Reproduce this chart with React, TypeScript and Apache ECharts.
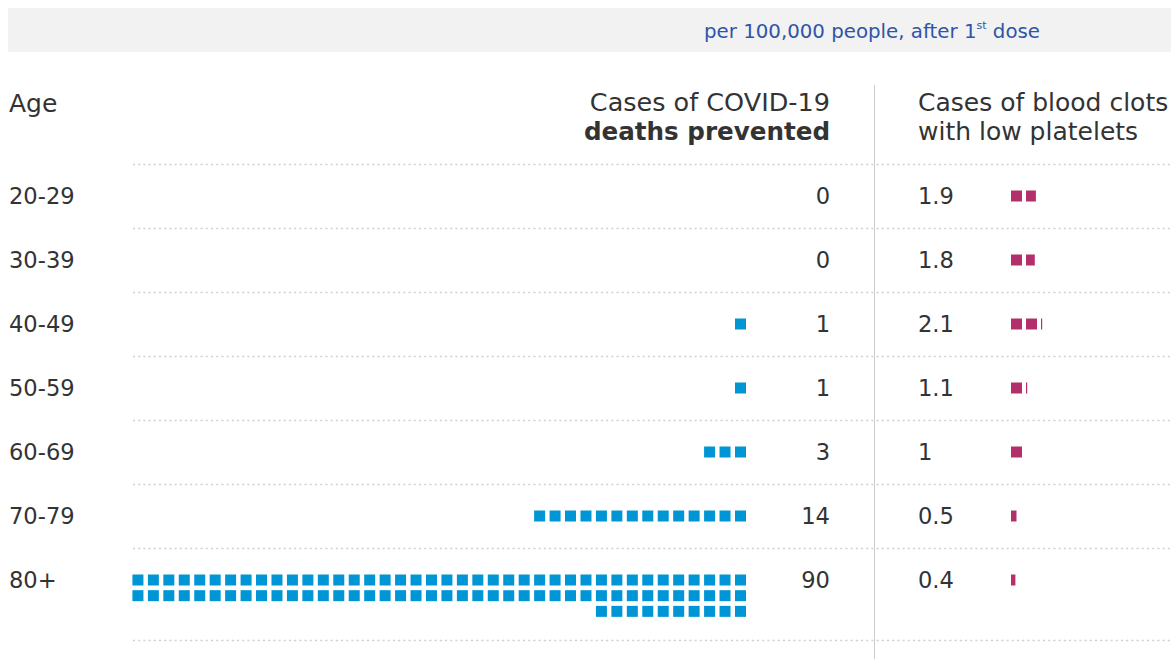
import React, { useEffect, useRef } from "react";
import * as echarts from "echarts";

// ---- data ----
const ages = ["20-29", "30-39", "40-49", "50-59", "60-69", "70-79", "80+"];
const deathsPrevented = [0, 0, 1, 1, 3, 14, 90];
const bloodClots = [1.9, 1.8, 2.1, 1.1, 1, 0.5, 0.4];
const separatorRows = [-0.5, 0.5, 1.5, 2.5, 3.5, 4.5, 5.5, 6.94];
const noteMain = "per 100,000 people, after 1";
const noteSup = "st";
const noteEnd = " dose";
const leftTitle1 = "Cases of COVID-19";
const leftTitle2 = "deaths prevented";
const rightTitle1 = "Cases of blood clots";
const rightTitle2 = "with low platelets";
const ageTitle = "Age";

// ---- layout / style ----
const FONT = '"DejaVu Sans", Verdana, sans-serif';
const TXT = "#333333";
const BLUE = "#0096d6";
const PINK = "#b3306b";
const PER_ROW = 40;
const SUB = 0.245;
const SQ = 11;
const GRID_TOP = 164;
const GRID_H = 476.16;

export default function App() {
  const ref = useRef<HTMLDivElement>(null);
  useEffect(() => {
    if (!ref.current) return;
    const chart = echarts.init(ref.current, undefined, { renderer: "svg" });
    const yAx = (i: number) => ({ type: "value", gridIndex: i, min: -0.5, max: 6.94, inverse: true, show: false });
    const txt = (text: string, x: number, y: number, size: number, align: string, weight = "normal", fill = TXT) => ({
      type: "text",
      x,
      y,
      silent: true,
      style: {
        text,
        fill,
        fontSize: size,
        fontFamily: FONT,
        fontWeight: weight,
        align,
        textAlign: align,
        verticalAlign: "middle",
        textVerticalAlign: "middle",
      },
    });
    const option: any = {
      animation: false,
      backgroundColor: "#ffffff",
      grid: [
        { left: 133, right: 0, top: GRID_TOP, height: GRID_H },
        { left: 130.2, width: 618, top: GRID_TOP, height: GRID_H },
        { left: 1011, width: 150, top: GRID_TOP, height: GRID_H },
      ],
      xAxis: [
        { type: "value", gridIndex: 0, min: 0, max: 1, show: false },
        { type: "value", gridIndex: 1, min: -0.5, max: 39.5, inverse: true, show: false },
        { type: "value", gridIndex: 2, min: 0, max: 10, show: false },
      ],
      yAxis: [yAx(0), yAx(1), yAx(2)],
      graphic: [
        { type: "rect", silent: true, shape: { x: 8, y: 8, width: 1163, height: 44 }, style: { fill: "#f2f2f2" } },
        {
          type: "text",
          x: 1040,
          y: 31,
          silent: true,
          style: {
            text: `{a|${noteMain}}{s|${noteSup}}{a|${noteEnd}}`,
            align: "right",
            textAlign: "right",
            verticalAlign: "middle",
            textVerticalAlign: "middle",
            rich: {
              a: { fontSize: 19.8, fontFamily: FONT, fill: "#2f55a8", color: "#2f55a8" },
              s: { fontSize: 11, fontFamily: FONT, fill: "#2f55a8", color: "#2f55a8", verticalAlign: "top", padding: [0, 0, 11, 0] },
            },
          },
        },
        { type: "line", silent: true, shape: { x1: 874.5, y1: 85, x2: 874.5, y2: 659 }, style: { stroke: "#cccccc", lineWidth: 1 } },
        txt(ageTitle, 9, 103, 25, "left"),
        txt(leftTitle1, 830, 102, 25.5, "right"),
        txt(leftTitle2, 830, 131, 24.6, "right", "bold"),
        txt(rightTitle1, 918, 102, 25, "left"),
        txt(rightTitle2, 918, 131, 25, "left"),
      ],
      series: [
        {
          type: "custom",
          silent: true,
          xAxisIndex: 0,
          yAxisIndex: 0,
          data: separatorRows.map((v) => [0, v]),
          renderItem: (params: any, api: any) => {
            const y = Math.round(api.coord([0, api.value(1)])[1]) + 0.5;
            const cs = params.coordSys;
            return {
              type: "line",
              shape: { x1: cs.x, y1: y, x2: cs.x + cs.width, y2: y },
              style: { stroke: "#cfcfcf", lineWidth: 1.6, lineDash: [2, 3.2] },
            };
          },
        },
        {
          type: "custom",
          silent: true,
          xAxisIndex: 1,
          yAxisIndex: 1,
          data: ages.map((_, i) => [i, deathsPrevented[i]]),
          renderItem: (_params: any, api: any) => {
            const row = api.value(0);
            const n = api.value(1);
            const children: any[] = [];
            for (let j = 0; j < n; j++) {
              const col = j % PER_ROW;
              const sub = Math.floor(j / PER_ROW);
              const [cx, cy] = api.coord([col, row + sub * SUB]);
              children.push({
                type: "rect",
                shape: { x: cx - SQ / 2, y: cy - SQ / 2, width: SQ, height: SQ },
                style: { fill: BLUE },
              });
            }
            return { type: "group", children };
          },
        },
        {
          type: "custom",
          silent: true,
          xAxisIndex: 2,
          yAxisIndex: 2,
          data: ages.map((_, i) => [i, bloodClots[i]]),
          renderItem: (_params: any, api: any) => {
            const row = api.value(0);
            const v = api.value(1);
            const children: any[] = [];
            for (let i = 0; i < Math.ceil(v - 1e-9); i++) {
              const w = Math.min(1, v - i);
              const [lx, cy] = api.coord([i, row]);
              children.push({
                type: "rect",
                shape: { x: lx, y: cy - SQ / 2, width: Math.max(1.2, SQ * w), height: SQ },
                style: { fill: PINK },
              });
            }
            return { type: "group", children };
          },
        },
        {
          type: "custom",
          silent: true,
          xAxisIndex: 0,
          yAxisIndex: 0,
          data: ages.map((_, i) => [0, i]),
          renderItem: (params: any, api: any) => {
            const i = params.dataIndex;
            const y = api.coord([0, api.value(1)])[1];
            const mk = (text: string, x: number, align: string) => ({
              type: "text",
              style: {
                text,
                x,
                y,
                fill: TXT,
                fontSize: 22.6,
                fontFamily: FONT,
                align,
                verticalAlign: "middle",
              },
            });
            return {
              type: "group",
              children: [
                mk(ages[i], 9, "left"),
                mk(String(deathsPrevented[i]), 830, "right"),
                mk(String(bloodClots[i]), 918, "left"),
              ],
            };
          },
        },
      ],
    };
    chart.setOption(option);
    return () => chart.dispose();
  }, []);
  return (
    <div
      ref={ref}
      style={{ position: "fixed", left: 0, top: 0, width: 1171, height: 659, background: "#fff" }}
    />
  );
}
